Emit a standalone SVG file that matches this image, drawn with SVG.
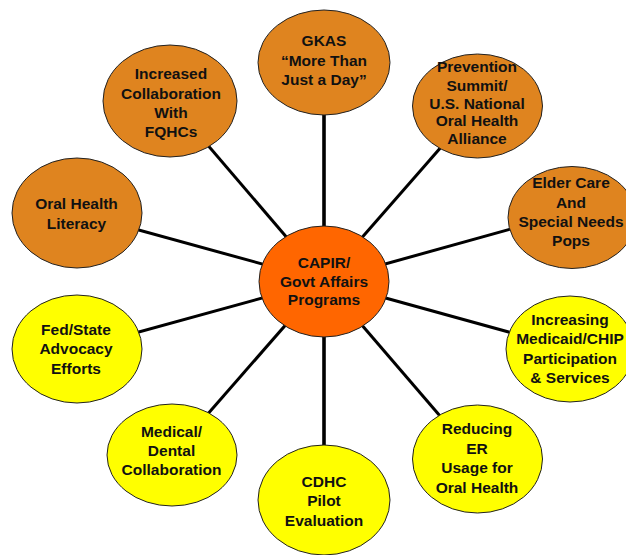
<svg xmlns="http://www.w3.org/2000/svg" width="626" height="555" viewBox="0 0 626 555">
<style>
.o{fill:#DF841F;stroke:#222;stroke-width:1}
.y{fill:#FFFF00;stroke:#222;stroke-width:1}
.c{fill:#FF6600;stroke:#222;stroke-width:1}
text{font-family:"Liberation Sans",Arial,sans-serif;font-weight:bold;font-size:15.5px;fill:#111;text-anchor:middle}
.ln{stroke:#000;stroke-width:3;fill:none}
</style>
<rect width="626" height="555" fill="#fff"/>
<g id="connectors">
<line class="ln" x1="324" y1="281" x2="324" y2="62" style="stroke-width:3.6"/>
<line class="ln" x1="324" y1="281" x2="324" y2="500" style="stroke-width:3.6"/>
<line class="ln" x1="324" y1="281" x2="477" y2="106"/>
<line class="ln" x1="324" y1="281" x2="572" y2="212"/>
<line class="ln" x1="324" y1="281" x2="570" y2="349"/>
<line class="ln" x1="324" y1="281" x2="477" y2="459"/>
<line class="ln" x1="324" y1="281" x2="172" y2="455"/>
<line class="ln" x1="324" y1="281" x2="77" y2="349"/>
<line class="ln" x1="324" y1="281" x2="77" y2="213"/>
<line class="ln" x1="324" y1="281" x2="170" y2="101"/>
</g>
<g id="gkas">
<ellipse class="o" cx="324" cy="62.5" rx="66" ry="52.5"/>
<text x="324" y="46">GKAS</text>
<text x="324" y="65.5">“More Than</text>
<text x="324" y="85">Just a Day”</text>
</g>
<g id="prevention">
<ellipse class="o" cx="477.5" cy="106" rx="65" ry="52"/>
<text x="477" y="72.3">Prevention</text>
<text x="477" y="90.5">Summit/</text>
<text x="477" y="108.5">U.S. National</text>
<text x="477" y="126.3">Oral Health</text>
<text x="477" y="144.3">Alliance</text>
</g>
<g id="elder">
<ellipse class="o" cx="572" cy="217.5" rx="64" ry="51"/>
<text x="571" y="188.3">Elder Care</text>
<text x="571" y="207.6">And</text>
<text x="571" y="226.8">Special Needs</text>
<text x="571" y="246">Pops</text>
</g>
<g id="medicaid">
<ellipse class="y" cx="570" cy="349" rx="64" ry="53"/>
<text x="570" y="325">Increasing</text>
<text x="570" y="344.3">Medicaid/CHIP</text>
<text x="570" y="363.5">Participation</text>
<text x="570" y="382.7">&amp; Services</text>
</g>
<g id="reducing">
<ellipse class="y" cx="477.5" cy="459" rx="65" ry="54"/>
<text x="477" y="434.3">Reducing</text>
<text x="477" y="454">ER</text>
<text x="477" y="473.3">Usage for</text>
<text x="477" y="492.5">Oral Health</text>
</g>
<g id="cdhc">
<ellipse class="y" cx="324" cy="500" rx="66" ry="55"/>
<text x="324" y="486.7">CDHC</text>
<text x="324" y="506">Pilot</text>
<text x="324" y="525.7">Evaluation</text>
</g>
<g id="medical">
<ellipse class="y" cx="172" cy="455" rx="65" ry="51"/>
<text x="171.5" y="436.7">Medical/</text>
<text x="171.5" y="456">Dental</text>
<text x="171.5" y="475.3">Collaboration</text>
</g>
<g id="fedstate">
<ellipse class="y" cx="77" cy="349" rx="65" ry="54"/>
<text x="76" y="335">Fed/State</text>
<text x="76" y="354.3">Advocacy</text>
<text x="76" y="373.5">Efforts</text>
</g>
<g id="literacy">
<ellipse class="o" cx="77" cy="213" rx="65" ry="55"/>
<text x="76.5" y="209.3">Oral Health</text>
<text x="76.5" y="229">Literacy</text>
</g>
<g id="fqhc">
<ellipse class="o" cx="170" cy="101" rx="67" ry="56"/>
<text x="171" y="79.3">Increased</text>
<text x="171" y="98.5">Collaboration</text>
<text x="171" y="117.5">With</text>
<text x="171" y="136.7">FQHCs</text>
</g>
<g id="center">
<ellipse class="c" cx="324" cy="281.5" rx="65" ry="55.5"/>
<text x="324" y="268">CAPIR/</text>
<text x="324" y="286.7">Govt Affairs</text>
<text x="324" y="305.3">Programs</text>
</g>
</svg>
